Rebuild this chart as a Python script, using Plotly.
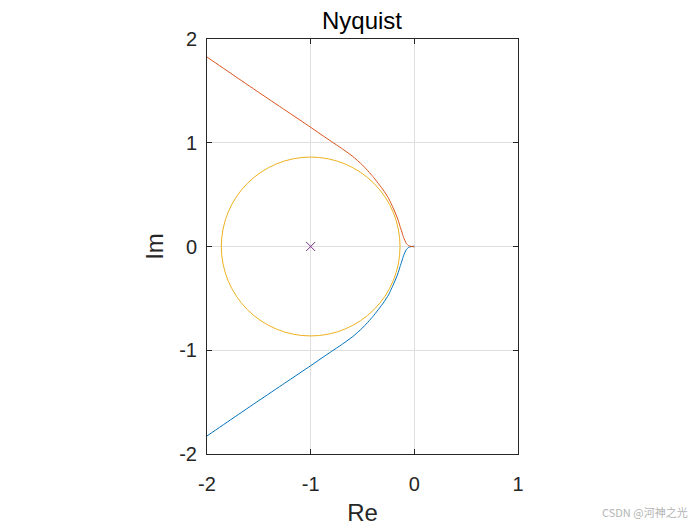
import plotly.graph_objects as go

# Upper branch (negative frequencies, red)
re_up = [-2.10, -2.00, -1.75, -1.50, -1.25, -1.00, -0.90, -0.80, -0.70, -0.60,
         -0.50, -0.40, -0.30, -0.25, -0.20, -0.16, -0.138, -0.12, -0.106,
         -0.09, -0.077, -0.06, -0.048, 0.0]
im_up = [1.895, 1.826, 1.655, 1.485, 1.317, 1.149, 1.080, 1.012, 0.945, 0.873,
         0.785, 0.675, 0.545, 0.468, 0.362, 0.265, 0.195, 0.140, 0.094,
         0.055, 0.030, 0.012, 0.005, -0.004]

# Lower branch (positive frequencies, blue)
re_lo = [-2.10, -2.00, -1.75, -1.50, -1.25, -1.00, -0.90, -0.80, -0.70, -0.60,
         -0.50, -0.40, -0.30, -0.25, -0.20, -0.16, -0.138, -0.12, -0.106,
         -0.09, -0.077, -0.06, -0.048, 0.0]
im_lo = [-1.895, -1.826, -1.655, -1.485, -1.317, -1.149, -1.080, -1.012, -0.945, -0.873,
         -0.785, -0.675, -0.545, -0.468, -0.362, -0.265, -0.195, -0.140, -0.094,
         -0.055, -0.030, -0.012, -0.005, 0.004]

# Circle around the critical point
circle_center = (-1.0, 0.0)
circle_radius = 0.862

# Critical point
crit_re = [-1.0]
crit_im = [0.0]

x_ticks = [-2, -1, 0, 1]
x_ticktext = ["-2", "-1", "0", "1"]
y_ticks = [-2, -1, 0, 1, 2]
y_ticktext = ["-2", "-1", "0", "1", "2"]

FONT = "Liberation Sans, Arial, sans-serif"
AX = "#262626"
GRID = "#dfdfdf"

fig = go.Figure()
fig.add_trace(go.Scatter(x=re_lo, y=im_lo, mode="lines",
                         line=dict(color="#0072BD", width=1, shape="spline", smoothing=0.5),
                         showlegend=False))
fig.add_trace(go.Scatter(x=re_up, y=im_up, mode="lines",
                         line=dict(color="#D95319", width=1, shape="spline", smoothing=0.5),
                         showlegend=False))
fig.add_trace(go.Scatter(x=crit_re, y=crit_im, mode="markers",
                         marker=dict(symbol="x-thin", size=9,
                                     line=dict(color="#7E2F8E", width=1)),
                         showlegend=False))

cx, cy = circle_center
fig.add_shape(type="circle", xref="x", yref="y",
              x0=cx - circle_radius, x1=cx + circle_radius,
              y0=cy - circle_radius, y1=cy + circle_radius,
              line=dict(color="#EDB120", width=1))

axis_common = dict(
    showgrid=True, gridcolor=GRID, gridwidth=1,
    zeroline=False,
    showline=True, linecolor=AX, linewidth=1, mirror="allticks",
    ticks="inside", ticklen=5, tickcolor=AX, tickwidth=1,
    tickfont=dict(family=FONT, size=20, color=AX),
)

# page body adds an 8px offset; margins compensate
fig.update_layout(
    width=700, height=525,
    margin=dict(l=199, r=190, t=31, b=79),
    paper_bgcolor="white", plot_bgcolor="white",
    title=dict(text="Nyquist", x=(362 - 8) / 700, xanchor="center",
               y=1 - (21 - 8) / 525, yanchor="middle",
               font=dict(family=FONT, size=24, color="black")),
    xaxis=dict(range=[-2, 1], tickvals=x_ticks, ticktext=x_ticktext,
               title=dict(text="Re", font=dict(family=FONT, size=24, color=AX),
                          standoff=10),
               ticklabelstandoff=12,
               **axis_common),
    yaxis=dict(range=[-2, 2], tickvals=y_ticks, ticktext=y_ticktext,
               title=dict(text="Im", font=dict(family=FONT, size=24, color=AX),
                          standoff=8),
               ticklabelstandoff=5,
               **axis_common),
    annotations=[dict(text="CSDN @河神之光", xref="paper", yref="paper",
                      x=(690 - 207) / 311, y=(454 - 512) / 415,
                      xanchor="right", yanchor="middle", showarrow=False,
                      font=dict(family="Noto Sans CJK SC", size=11, color="#b4b4b4"))],
)

fig.write_html("out.html")
